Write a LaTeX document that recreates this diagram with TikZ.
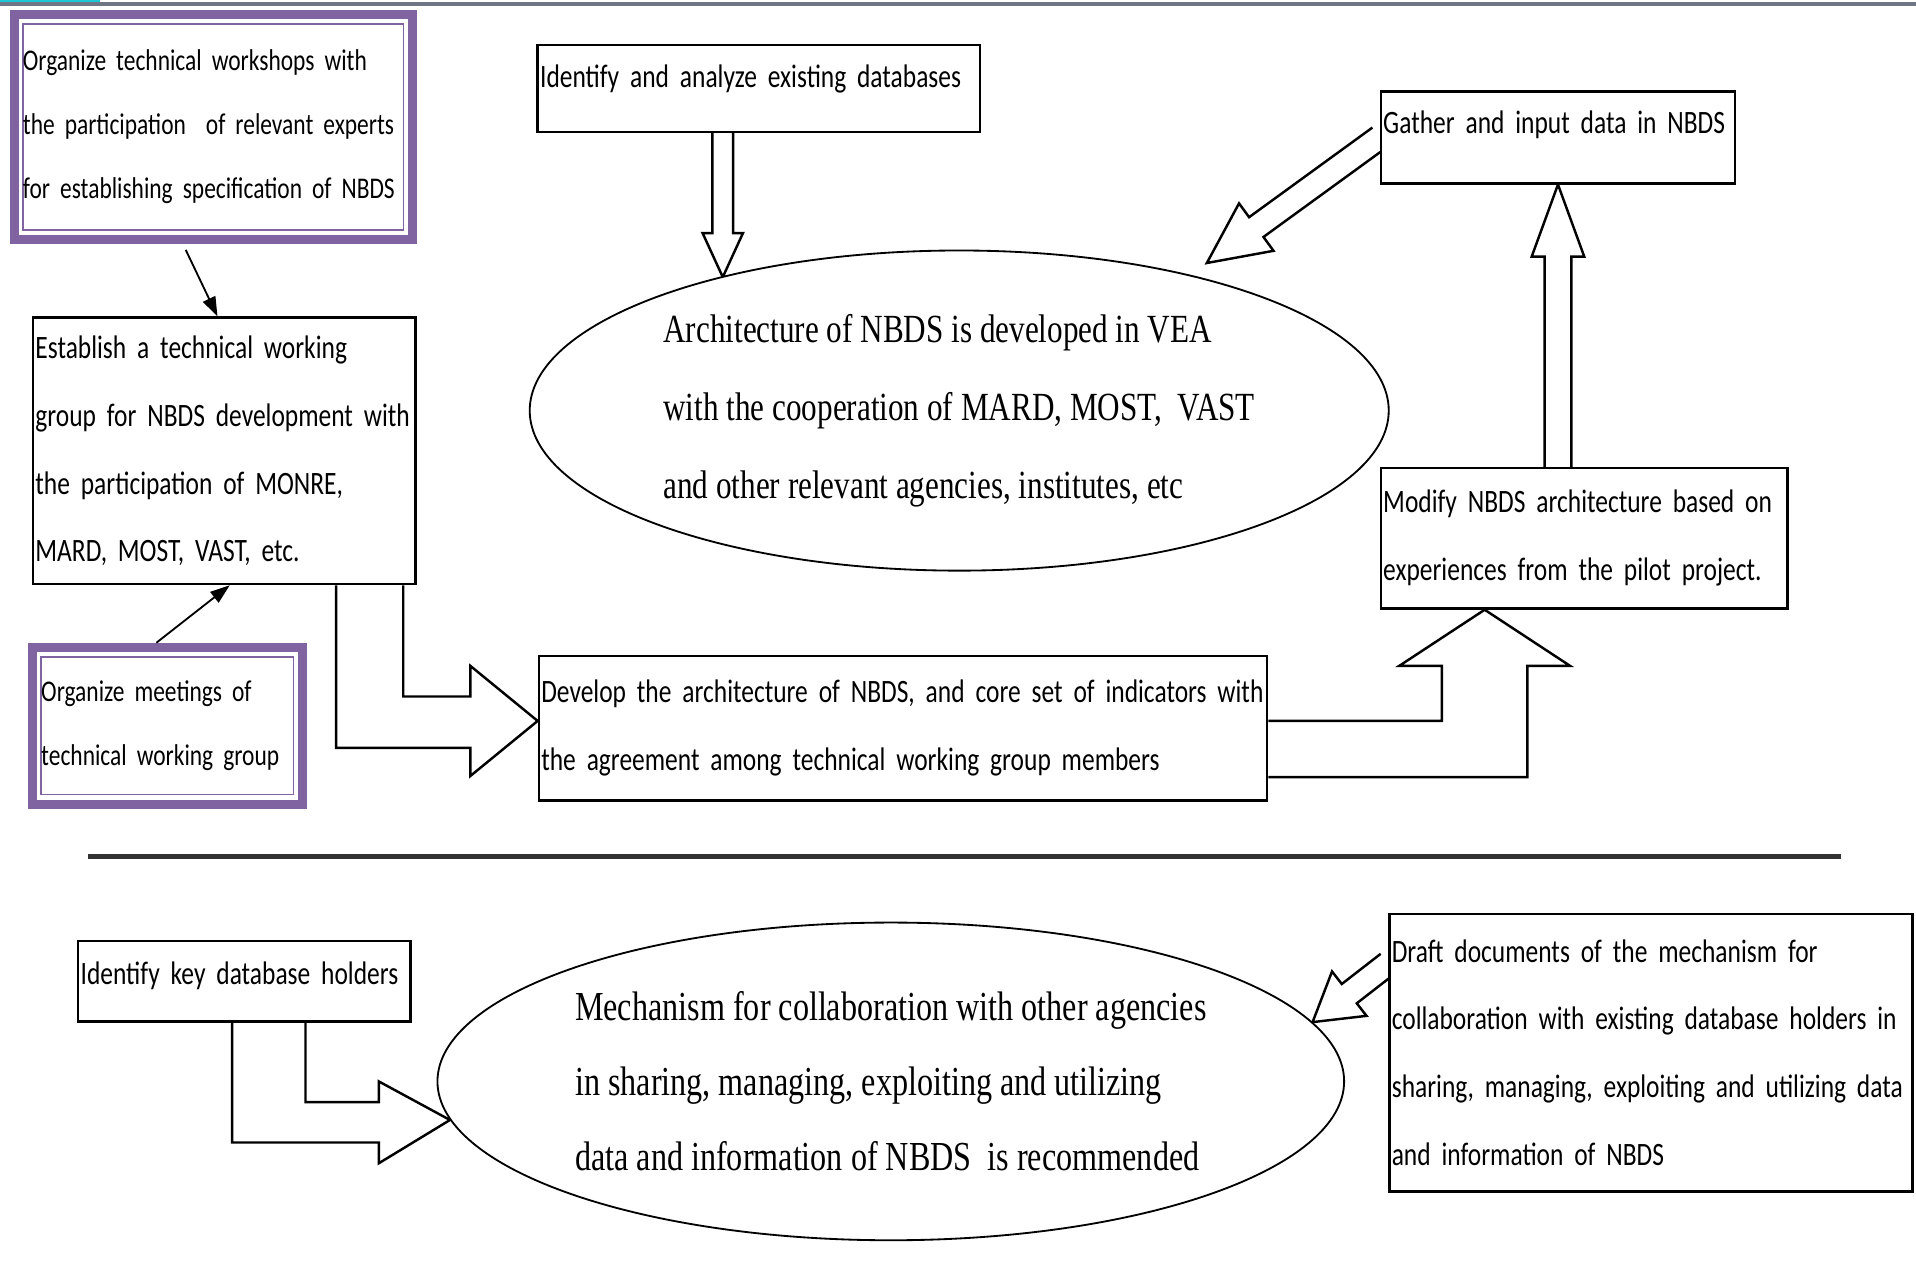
\documentclass[tikz,border=0pt]{standalone}
\usepackage{fontspec}
\usetikzlibrary{shapes.geometric,arrows.meta,calc,backgrounds}
\newfontfamily\boxfont{Carlito}[FakeStretch=0.78]
\newfontfamily\goalfont{Liberation Serif}[FakeStretch=0.78]
\definecolor{boxpurple}{HTML}{8064A2}
\definecolor{stripgray}{HTML}{6E7585}
\definecolor{stripcyan}{HTML}{1FC6D6}
\newcommand{\stepfont}{\boxfont\fontsize{7.6pt}{15.8pt}\selectfont\spaceskip=1.05pt plus 0.5pt minus 0.4pt\relax}
\newcommand{\meetfont}{\boxfont\fontsize{7.0pt}{14.9pt}\selectfont\spaceskip=1pt plus 0.5pt minus 0.4pt\relax}
\newcommand{\goalsize}{\goalfont\fontsize{9.3pt}{18.1pt}\selectfont}
\newcommand{\hollowarrow}[5]{%
  \coordinate (neck) at ($(#2)!#5!(#1)$);
  \draw[blockarrow] ($(#1)!#3!90:(#2)$) -- ($(neck)!#3!90:(#2)$) -- ($(neck)!#4!90:(#2)$) -- (#2)
    -- ($(neck)!#4!-90:(#2)$) -- ($(neck)!#3!-90:(#2)$) -- ($(#1)!#3!-90:(#2)$);}
\tikzset{
  stepbox/.style={draw, line width=0.2mm, fill=white, font=\stepfont, align=left, inner xsep=0.2mm, inner ysep=0pt},
  meetbox/.style={draw=boxpurple, line width=0.75mm, fill=white, font=\meetfont, align=left, inner xsep=0.7mm, inner ysep=0pt,
    path picture={\draw[boxpurple, line width=0.15mm] ([xshift=0.7mm,yshift=-0.8mm]path picture bounding box.north west)
      rectangle ([xshift=-0.7mm,yshift=0.8mm]path picture bounding box.south east);}},
  goal/.style={draw, ellipse, line width=0.15mm, fill=white, font=\goalsize, align=left, inner sep=0pt},
  blockarrow/.style={draw, line width=0.2mm, fill=white, line join=miter},
  thinarrow/.style={line width=0.15mm, -{Triangle[length=1.6mm,width=1.1mm]}}
}
\begin{document}
\begin{tikzpicture}[x=0.1mm, y=-0.1mm]
\useasboundingbox (0,0) rectangle (1568,1033);
\fill[stripgray] (0,1.8) rectangle (1568,4.6);
\fill[stripcyan] (0,0) rectangle (82,2);

\node[meetbox, text width=31.15mm, minimum height=18.45mm] (workshop) at (174.5,104) {Organize technical workshops with\\ the participation\ \ of relevant experts\\ for establishing specification of NBDS};
\node[stepbox, text width=30.9mm, minimum height=21.8mm] (establish) at (183.5,369) {Establish a technical working\\ group for NBDS development with\\ the participation of MONRE,\\ MARD, MOST, VAST, etc.};
\node[meetbox, text width=20.65mm, minimum height=12.85mm] (meetings) at (137,594) {Organize meetings of\\ technical working group};
\node[stepbox, text width=35.8mm, minimum height=7.1mm, text height=2mm, text depth=2.24mm] (identify) at (621,72.5) {Identify and analyze existing databases};
\node[goal, minimum width=70.3mm, minimum height=26.2mm] (arch) at (785,336) {Architecture of NBDS is developed in VEA\\ with the cooperation of MARD, MOST,\ \ VAST\\ and other relevant agencies, institutes, etc};
\node[stepbox, text width=28.6mm, minimum height=7.5mm, text height=2mm, text depth=2.64mm] (gather) at (1275,112.5) {Gather and input data in NBDS};
\node[stepbox, text width=32.9mm, minimum height=11.5mm] (modify) at (1296.5,440.5) {Modify NBDS architecture based on\\ experiences from the pilot project.};
\node[stepbox, text width=59.2mm, minimum height=11.8mm] (develop) at (739,596) {Develop the architecture of NBDS, and core set of indicators with\\ the agreement among technical working group members};
\node[stepbox, text width=26.8mm, minimum height=6.6mm, text height=2mm, text depth=1.54mm] (holders) at (200,803) {Identify key database holders};
\node[goal, minimum width=74.2mm, minimum height=26mm, font=\goalfont\fontsize{9.6pt}{17.5pt}\selectfont] (mechanism) at (729,885) {Mechanism for collaboration with other agencies\\ in sharing, managing, exploiting and utilizing\\ data and information of NBDS\ \ is recommended};
\node[stepbox, text width=42.4mm, minimum height=22.7mm] (draft) at (1351,861.5) {Draft documents of the mechanism for\\ collaboration with existing database holders in\\ sharing, managing, exploiting and utilizing data\\ and information of NBDS};

\coordinate (idtail) at ([xshift=-2.95mm]identify.south);
\coordinate (idtip) at (idtail |- arch.151);
\coordinate (modtail) at ([xshift=-2.15mm]modify.north);
\coordinate (gathertip) at ([yshift=1.3mm]arch.28);
\coordinate (drafttail) at ([yshift=7.3mm]draft.west);

\begin{scope}[on background layer]
\hollowarrow{idtail}{idtip}{0.85mm}{1.65mm}{3.6mm}
\hollowarrow{modtail}{gather.south}{1.1mm}{2.15mm}{5.9mm}
\hollowarrow{gather.west}{gathertip}{1.0mm}{2.4mm}{5mm}
\hollowarrow{drafttail}{mechanism.8}{1.0mm}{2.3mm}{3.8mm}
\draw[blockarrow] ([xshift=9.15mm]establish.south) -- (275,612) -- (385,612) -- (385,635) -- ([yshift=0.6mm]develop.west)
  -- (385,545) -- (385,570) -- (330,570) -- ([xshift=14.65mm]establish.south);
\draw[blockarrow] ([yshift=0.6mm]develop.east) -- (1180,590) -- (1180,545) -- (1145,545) -- ([xshift=-8.15mm]modify.south)
  -- (1285,545) -- (1250,545) -- (1250,636) -- ([yshift=-4mm]develop.east);
\draw[blockarrow] ([xshift=-1mm]holders.south) -- (190,935) -- (310,935) -- (310,952) -- (mechanism.185)
  -- (310,885) -- (310,902) -- (250,902) -- ([xshift=5mm]holders.south);
\end{scope}

\draw[thinarrow] ([xshift=-2.25mm,yshift=-0.45mm]workshop.south) -- ([xshift=-0.55mm]establish.north);
\draw[thinarrow] ([xshift=-0.9mm]meetings.north) -- ([xshift=0.45mm]establish.south);
\draw[line width=0.35mm, black!80] (72,701) -- (1507,701);
\end{tikzpicture}
\end{document}
